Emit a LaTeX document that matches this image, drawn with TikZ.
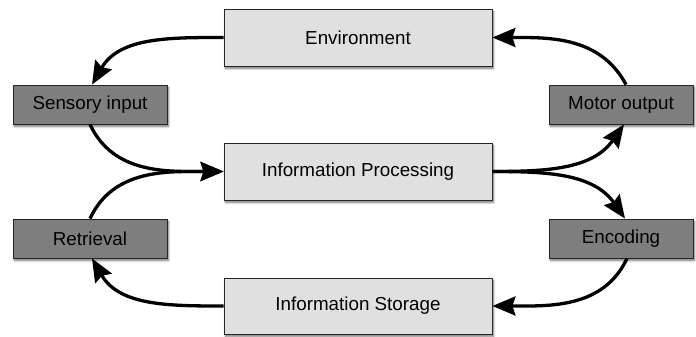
\documentclass[tikz,border=0pt]{standalone}
\usepackage{fontspec}
\setmainfont{Liberation Sans}
\usetikzlibrary{arrows.meta,shadows.blur}
\definecolor{lightbox}{HTML}{E0E0E0}
\definecolor{darkbox}{HTML}{7E7E7E}
\begin{document}
\begin{tikzpicture}[x=1pt,y=-1pt,
  base/.style={draw=black!85, line width=0.8pt, inner sep=0pt, font=\fontsize{18.8}{22}\selectfont,
    blur shadow={shadow xshift=1.5pt, shadow yshift=-2.5pt, shadow blur steps=6, shadow opacity=55}},
  bigbox/.style={base, fill=lightbox, minimum width=268pt, minimum height=57pt},
  smallbox/.style={base, fill=darkbox, minimum height=39pt},
  conn/.style={line width=3.3pt, -{Stealth[length=23pt,width=19pt,inset=3pt]}}
]
\useasboundingbox (0,0) rectangle (696,337);
\node[bigbox] (env) at (358,37.5) {Environment};
\node[bigbox] (proc) at (358,171.5) {Information Processing};
\node[bigbox, minimum height=56pt] (stor) at (358,306) {Information Storage};
\node[smallbox, minimum width=154pt] (sens) at (90,104.5) {Sensory input};
\node[smallbox, minimum width=154pt] (retr) at (90,238.5) {Retrieval};
\node[smallbox, minimum width=144pt] (motor) at (621,104.5) {Motor output};
\node[smallbox, minimum width=144pt] (enc) at (621,238.5) {Encoding};

\draw[conn] (env.west) to[out=180,in=60] ([xshift=2pt]sens.north);
\draw[conn] (sens.south) to[out=-65,in=180] (proc.west);
\draw[conn] (retr.north) to[out=65,in=180] (proc.west);
\draw[conn] (proc.east) to[out=0,in=-125] ([xshift=3pt]motor.south);
\draw[conn] (proc.east) to[out=0,in=125] ([xshift=4pt]enc.north);
\draw[conn] ([xshift=6pt]enc.south) to[out=-115,in=0] (stor.east);
\draw[conn] (stor.west) to[out=180,in=-60] ([xshift=2pt]retr.south);
\draw[conn] ([xshift=5pt]motor.north) to[out=118,in=0] (env.east);
\end{tikzpicture}
\end{document}
